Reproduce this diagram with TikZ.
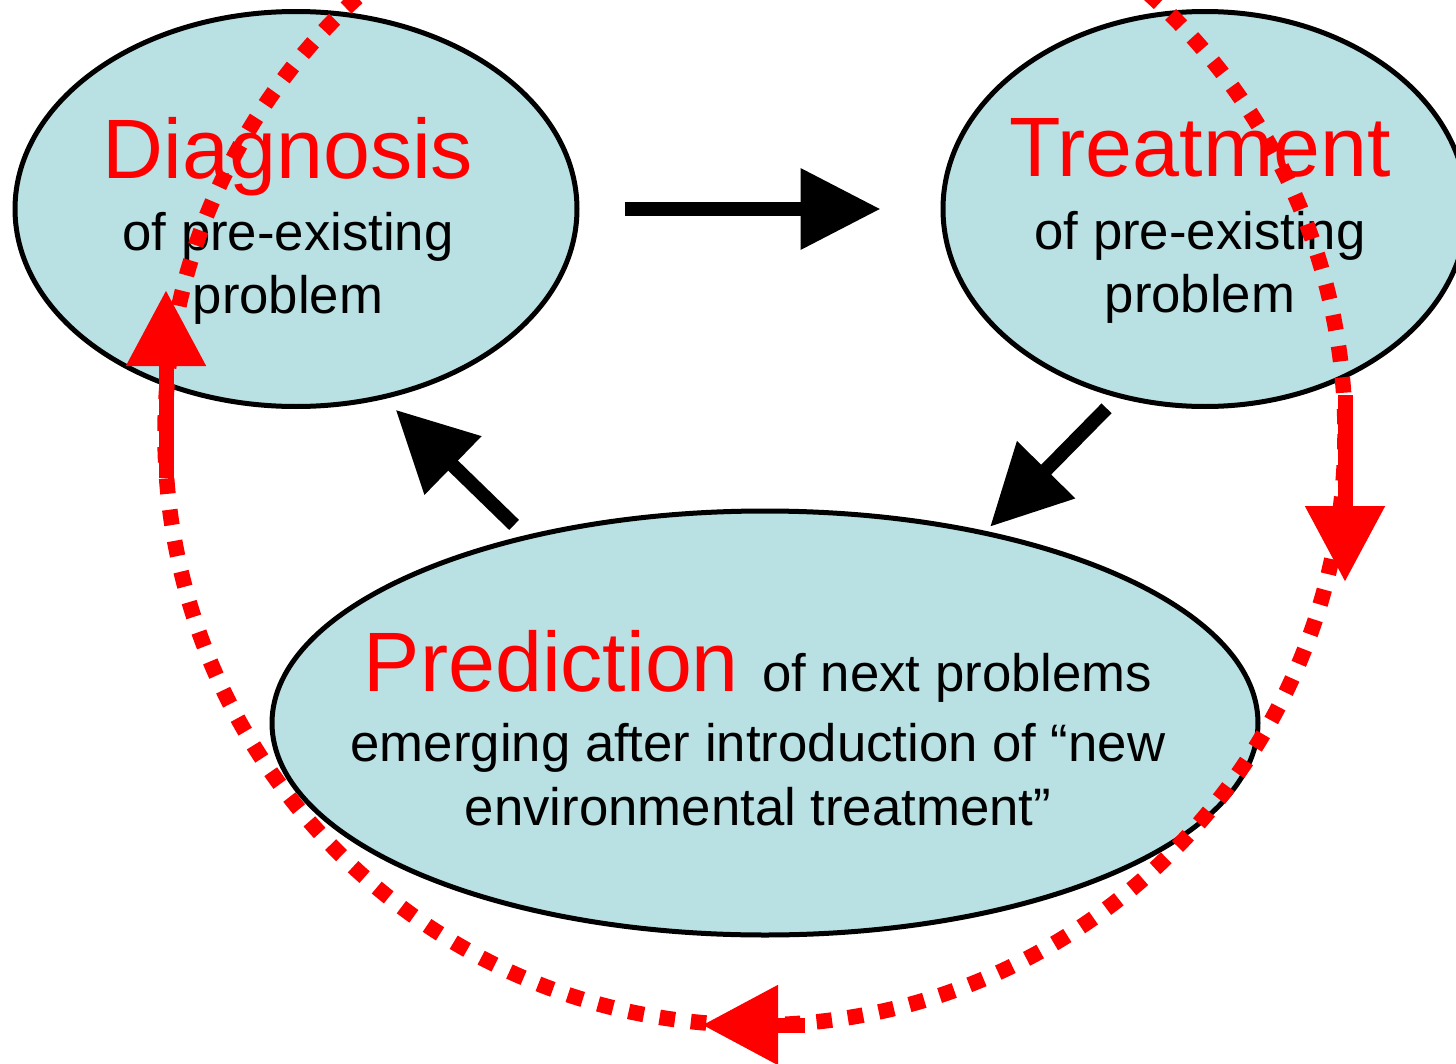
\documentclass[tikz,border=0pt]{standalone}
\usepackage{fontspec}
\setmainfont{Liberation Sans}
\usetikzlibrary{shapes.geometric,arrows.meta,positioning}
\definecolor{bubble}{RGB}{185,224,227}
\newcommand{\headword}[1]{{\fontsize{24}{24}\selectfont\color{red}#1}}

\begin{document}
\begin{tikzpicture}[x=0.1mm,y=-0.1mm,
		blob/.style={ellipse,draw=black,line width=0.5mm,fill=bubble,inner sep=0pt},
		lbl/.style={align=center,font=\fontsize{15}{18}\selectfont},
		flow/.style={line width=1.4mm,-{Triangle[length=8mm,width=7.8mm]}},
		cycledots/.style={red,line width=1.55mm,dash pattern=on 1.55mm off 1.6mm},
		redflow/.style={red,line width=1.5mm,-{Triangle[length=7.6mm,width=7.6mm]}}]
				\useasboundingbox (0,0) rectangle (1456,1064);
				\clip (0,0) rectangle (1456,1064);
				
				\node[blob,minimum width=56.2mm,minimum height=39.5mm] (diag) at (296,209) {};
				\node[blob,minimum width=52.4mm,minimum height=39.5mm,right=36.1mm of diag] (treat) {};
				\node[blob,minimum width=98.6mm,minimum height=42.4mm] (pred) at (765,723) {};
				
				\node[lbl] (diaglbl) at ([shift={(-8,12)}]diag.center) {\headword{Diagnosis}\\[0.9mm] of pre-existing\\ problem};
				\node[lbl] (treatlbl) at ([shift={(-5,12)}]treat.center) {\headword{Treatment}\\[0.9mm] of pre-existing\\ problem};
				\node[lbl] (predlbl) at ([shift={(-7,5)}]pred.center) {\headword{Prediction }of next problems\\[0.7mm] emerging after introduction of “new\\ environmental treatment”};
				
				\draw[flow,shorten <=4.5mm,shorten >=6mm] (diag.east) -- (treat.west);
				\draw[flow,shorten <=1.5mm,shorten >=0.6mm] (treat.245.8) -- (pred.41.5);
				\draw[flow,shorten <=1.5mm,shorten >=1.55mm] (pred.142.3) -- (diag.295.2);
				
				\draw[cycledots] (755,434) ellipse [x radius=590, y radius=591];
				
				\coordinate (upfoot) at (166,478);
				\coordinate (uptip) at (166,290);
				\coordinate (rightfoot) at (1345,395);
				\coordinate (righttip) at (1345,582);
				\coordinate (lowfoot) at (805,1025);
				\coordinate (lowtip) at (702,1025);
				\draw[redflow] (upfoot) -- (uptip);
				\draw[redflow] (rightfoot) -- (righttip);
				\draw[redflow] (lowfoot) -- (lowtip);
\end{tikzpicture}
\end{document}
